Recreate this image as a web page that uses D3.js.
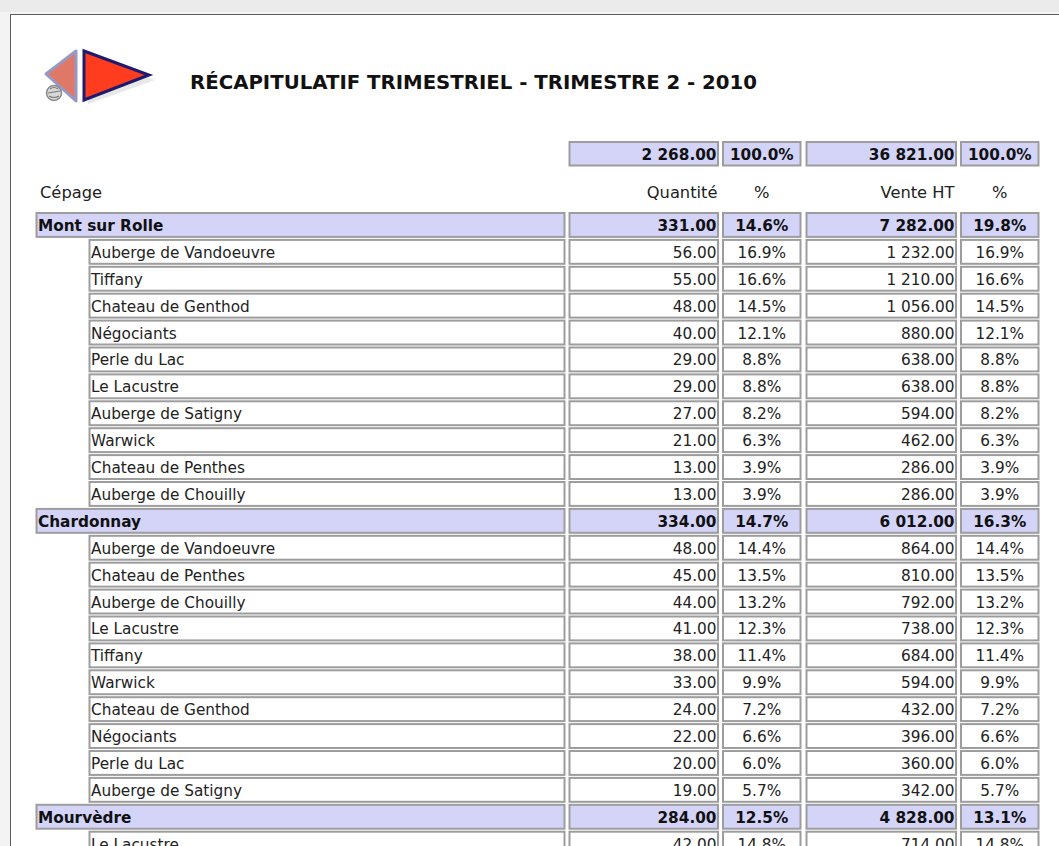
<!DOCTYPE html>
<html><head><meta charset="utf-8">
<script src="https://cdn.jsdelivr.net/npm/d3@7"></script>
<style>html,body{margin:0;padding:0;background:#f2f2f2;overflow:hidden}</style>
</head><body>
<script>
// ---------- data ----------
const title = "RÉCAPITULATIF TRIMESTRIEL - TRIMESTRE 2 - 2010";
const headerLabels = ["Cépage", "Quantité", "%", "Vente HT", "%"];
const totalQty = 2268, totalQtyPct = 100.0, totalVente = 36821, totalVentePct = 100.0;

const groupNames = ["Mont sur Rolle", "Chardonnay", "Mourvèdre"];
const groupQty = [331, 334, 284];
const groupQtyPct = [14.6, 14.7, 12.5];
const groupVente = [7282, 6012, 4828];
const groupVentePct = [19.8, 16.3, 13.1];

const clients1 = ["Auberge de Vandoeuvre","Tiffany","Chateau de Genthod","Négociants","Perle du Lac","Le Lacustre","Auberge de Satigny","Warwick","Chateau de Penthes","Auberge de Chouilly"];
const qty1 = [56,55,48,40,29,29,27,21,13,13];
const qtyPct1 = [16.9,16.6,14.5,12.1,8.8,8.8,8.2,6.3,3.9,3.9];
const vente1 = [1232,1210,1056,880,638,638,594,462,286,286];
const ventePct1 = [16.9,16.6,14.5,12.1,8.8,8.8,8.2,6.3,3.9,3.9];

const clients2 = ["Auberge de Vandoeuvre","Chateau de Penthes","Auberge de Chouilly","Le Lacustre","Tiffany","Warwick","Chateau de Genthod","Négociants","Perle du Lac","Auberge de Satigny"];
const qty2 = [48,45,44,41,38,33,24,22,20,19];
const qtyPct2 = [14.4,13.5,13.2,12.3,11.4,9.9,7.2,6.6,6.0,5.7];
const vente2 = [864,810,792,738,684,594,432,396,360,342];
const ventePct2 = [14.4,13.5,13.2,12.3,11.4,9.9,7.2,6.6,6.0,5.7];

const clients3 = ["Le Lacustre"];
const qty3 = [42];
const qtyPct3 = [14.8];
const vente3 = [714];
const ventePct3 = [14.8];

// ---------- build rows ----------
const details = [
  [clients1, qty1, qtyPct1, vente1, ventePct1],
  [clients2, qty2, qtyPct2, vente2, ventePct2],
  [clients3, qty3, qtyPct3, vente3, ventePct3]
];
const rows = [];
groupNames.forEach((g, gi) => {
  rows.push({group: true, name: g, q: groupQty[gi], qp: groupQtyPct[gi], v: groupVente[gi], vp: groupVentePct[gi]});
  const [c, q, qp, v, vp] = details[gi];
  c.forEach((n, i) => rows.push({group: false, name: n, q: q[i], qp: qp[i], v: v[i], vp: vp[i]}));
});

const W = 1059, H = 846;
const num = d3.formatLocale({decimal: ".", thousands: " ", grouping: [3], currency: ["", ""]}).format(",.2f");
const pct = d => d.toFixed(1) + "%";

const svg = d3.select("body").append("svg").attr("width", W).attr("height", H)
  .style("display", "block");

// background + page
svg.append("rect").attr("width", W).attr("height", H).attr("fill", "#f3f3f3");
svg.append("rect").attr("x", 0).attr("y", 0).attr("width", W).attr("height", 12).attr("fill", "#ebebeb");
svg.append("rect").attr("x", 10.5).attr("y", 14.5).attr("width", 1200).attr("height", 1000)
  .attr("fill", "#fff").attr("stroke", "#5c5c5c").attr("stroke-width", 1);

// logo
const logo = svg.append("g");
logo.append("path").attr("d", "M88,55 L88,104 L155,80 Z").attr("fill", "#bdbdbd").attr("opacity", 0.35);
logo.append("path").attr("d", "M76,51 L76,101 L46,74 Z")
  .attr("fill", "#e07868").attr("stroke", "#9898c4").attr("stroke-width", 3).attr("stroke-linejoin", "round");
logo.append("path").attr("d", "M84,51 L84,100 L149,75 Z")
  .attr("fill", "#ff3c1e").attr("stroke", "#1e1a6e").attr("stroke-width", 3).attr("stroke-linejoin", "miter");
logo.append("circle").attr("cx", 54).attr("cy", 93).attr("r", 7.5)
  .attr("fill", "#d8d8d8").attr("stroke", "#8a8a8a").attr("stroke-width", 1.5);
logo.append("path").attr("d", "M48,93 L60,91 M50,89 Q54,86 58,89 M49,96 Q54,99 59,96")
  .attr("fill", "none").attr("stroke", "#7a7a7a").attr("stroke-width", 1.2);

// title
svg.append("text").attr("x", 190).attr("y", 89)
  .attr("font-family", "DejaVu Sans, Verdana, sans-serif").attr("font-weight", "bold")
  .attr("font-size", 19).attr("textLength", 567).attr("lengthAdjust", "spacingAndGlyphs")
  .attr("fill", "#111").text(title);

// column layout
const cols = {
  name: [35, 566], nameDetail: [88, 566],
  q: [568, 719.5], qp: [721.5, 802], v: [805, 957.5], vp: [959.5, 1040]
};
const FONT = "DejaVu Sans, Verdana, sans-serif";
const stroke = "#9d9d9d", groupFill = "#d4d4f9";

const rowTop = d3.scaleLinear().domain([0, 1]).range([211.5, 211.5 + 26.9]);
const rowH = 26.9;

function cell(g, x0, x1, y0, h, fill) {
  g.append("rect").attr("x", x0 + 1.5).attr("y", y0 + 1.5)
    .attr("width", x1 - x0 - 3).attr("height", h - 3)
    .attr("fill", fill).attr("stroke", stroke).attr("stroke-width", 2);
}
function txt(g, x, y, s, anchor, bold, size) {
  g.append("text").attr("x", x).attr("y", y).attr("text-anchor", anchor)
    .attr("font-family", FONT).attr("font-size", size || 15.3)
    .attr("font-weight", bold ? "bold" : "normal")
    .attr("fill", bold ? "#111" : "#222").text(s);
}

// totals row
const tg = svg.append("g");
const tTop = 140.5, tH = 26.5;
cell(tg, cols.q[0], cols.q[1], tTop, tH, groupFill);
cell(tg, cols.qp[0], cols.qp[1], tTop, tH, groupFill);
cell(tg, cols.v[0], cols.v[1], tTop, tH, groupFill);
cell(tg, cols.vp[0], cols.vp[1], tTop, tH, groupFill);
const tBase = tTop + tH / 2 + 6;
txt(tg, cols.q[1] - 3, tBase, num(totalQty), "end", true);
txt(tg, (cols.qp[0] + cols.qp[1]) / 2, tBase, pct(totalQtyPct), "middle", true);
txt(tg, cols.v[1] - 3, tBase, num(totalVente), "end", true);
txt(tg, (cols.vp[0] + cols.vp[1]) / 2, tBase, pct(totalVentePct), "middle", true);

// header row
const hg = svg.append("g");
const hBase = 197.5;
txt(hg, 40, hBase, headerLabels[0], "start", false, 16.3);
txt(hg, cols.q[1] - 2, hBase, headerLabels[1], "end", false, 16.3);
txt(hg, (cols.qp[0] + cols.qp[1]) / 2, hBase, headerLabels[2], "middle", false, 16.3);
txt(hg, cols.v[1] - 3, hBase, headerLabels[3], "end", false, 16.3);
txt(hg, (cols.vp[0] + cols.vp[1]) / 2, hBase, headerLabels[4], "middle", false, 16.3);

// body rows
const body = svg.append("g");
rows.forEach((r, i) => {
  const y0 = rowTop(i);
  const g = body.append("g");
  const fill = r.group ? groupFill : "#fff";
  const nc = r.group ? cols.name : cols.nameDetail;
  cell(g, nc[0], nc[1], y0, rowH, fill);
  cell(g, cols.q[0], cols.q[1], y0, rowH, fill);
  cell(g, cols.qp[0], cols.qp[1], y0, rowH, fill);
  cell(g, cols.v[0], cols.v[1], y0, rowH, fill);
  cell(g, cols.vp[0], cols.vp[1], y0, rowH, fill);
  const base = y0 + rowH / 2 + 6;
  txt(g, nc[0] + 3, base, r.name, "start", r.group);
  txt(g, cols.q[1] - 3, base, num(r.q), "end", r.group);
  txt(g, (cols.qp[0] + cols.qp[1]) / 2, base, pct(r.qp), "middle", r.group);
  txt(g, cols.v[1] - 3, base, num(r.v), "end", r.group);
  txt(g, (cols.vp[0] + cols.vp[1]) / 2, base, pct(r.vp), "middle", r.group);
});
</script>
</body></html>
